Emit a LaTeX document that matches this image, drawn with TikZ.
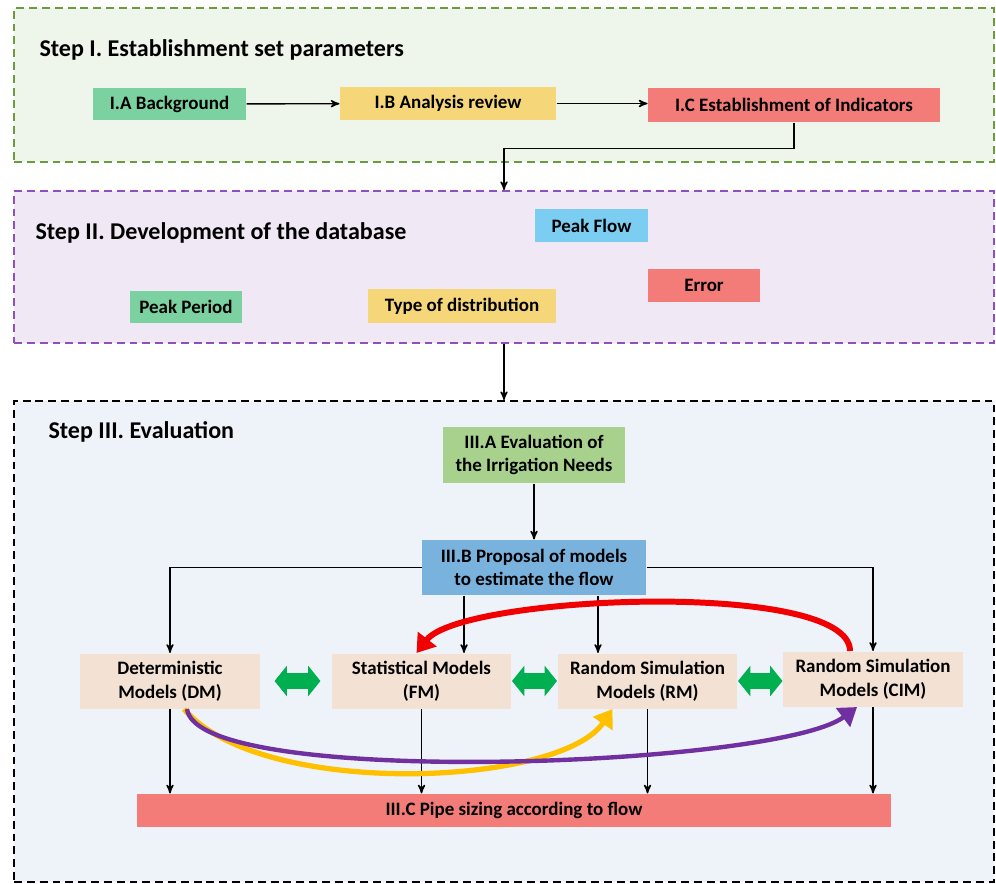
\documentclass[tikz,border=0pt]{standalone}
\usepackage{fontspec}
\setmainfont{Carlito}
\usepackage{xcolor}
\usetikzlibrary{arrows,arrows.meta,positioning,calc}

\definecolor{panelIfill}{HTML}{EEF5EA}
\definecolor{panelIline}{HTML}{6C9A3E}
\definecolor{panelIIfill}{HTML}{F0E8F4}
\definecolor{panelIIline}{HTML}{8E4FC0}
\definecolor{panelIIIfill}{HTML}{EEF3FA}
\definecolor{boxgreen}{HTML}{7BD2A0}
\definecolor{boxyellow}{HTML}{F5D77A}
\definecolor{boxred}{HTML}{F47C78}
\definecolor{boxblue}{HTML}{7CCDF2}
\definecolor{boxolive}{HTML}{A9D18E}
\definecolor{boxsteel}{HTML}{7AB2DE}
\definecolor{boxsand}{HTML}{F3E1D3}
\definecolor{arrowgreen}{HTML}{00B050}
\definecolor{arrowred}{HTML}{F00000}
\definecolor{arrowgold}{HTML}{FFC000}
\definecolor{arrowpurple}{HTML}{7030A0}

\begin{document}
\begin{tikzpicture}[x=0.02cm, y=-0.02cm, >=stealth', semithick]
  % Define styles
  \tikzstyle{panel}=[rectangle, line width=1.1pt, dash pattern=on 4.5pt off 2.8pt, minimum width=19.6cm, inner sep=0pt]
  \tikzstyle{title}=[anchor=west, inner sep=0pt, font=\bfseries\fontsize{13.7}{16}\selectfont]
  \tikzstyle{box}=[rectangle, inner sep=2pt, align=center, font=\bfseries\fontsize{10.8}{13.5}\selectfont]
  \tikzstyle{model}=[box, fill=boxsand, minimum width=3.6cm, minimum height=1.1cm]
  \tikzstyle{link}=[->, thick]
  \tikzstyle{twoway}=[{Triangle[length=7pt,width=17pt]}-{Triangle[length=7pt,width=17pt]}, line width=9.5pt, draw=arrowgreen]
  \tikzstyle{bigarrow}=[-{Triangle[length=10pt,width=13pt]}, line width=3pt]

  \useasboundingbox (0,0) rectangle (996,883);

  % Panels
  \node[panel, draw=panelIline, fill=panelIfill, minimum height=3.08cm]     (stepI)   at (504,85)    {};
  \node[panel, draw=panelIIline, fill=panelIIfill, minimum height=3.04cm]   (stepII)  at (504,267)   {};
  \node[panel, draw=black, fill=panelIIIfill, minimum height=9.62cm]        (stepIII) at (504,641.5) {};

  \node[title] (titleI)   at (39,50)  {Step I. Establishment set parameters};
  \node[title] (titleII)  at (35,233) {Step II. Development of the database};
  \node[title] (titleIII) at (48,432) {Step III. Evaluation};

  % Step I
  \node[box, fill=boxgreen, minimum width=3.06cm, minimum height=0.64cm]  (IA) at (169.5,104) {I.A Background};
  \node[box, fill=boxyellow, minimum width=4.32cm, minimum height=0.66cm] (IB) at (448,103.5) {I.B Analysis review};
  \node[box, fill=boxred, minimum width=5.84cm, minimum height=0.68cm]    (IC) at (794,105)   {I.C Establishment of Indicators};

  % Step II
  \node[box, fill=boxblue, minimum width=2.26cm, minimum height=0.66cm]   (flow)   at (591.5,225.5) {Peak Flow};
  \node[box, fill=boxred, minimum width=2.24cm, minimum height=0.66cm]    (error)  at (704,285.5)   {Error};
  \node[box, fill=boxgreen, minimum width=2.24cm, minimum height=0.64cm]  (period) at (186,307)     {Peak Period};
  \node[box, fill=boxyellow, minimum width=3.76cm, minimum height=0.68cm] (distr)  at (462,306)     {Type of distribution};

  % Step III
  \node[box, fill=boxolive, minimum width=3.64cm, minimum height=1.12cm] (IIIA) at (534,455)   {III.A Evaluation of\\the Irrigation Needs};
  \node[box, fill=boxsteel, minimum width=4.48cm, minimum height=1.1cm]  (IIIB) at (534,567.5) {III.B Proposal of models\\to estimate the flow};
  \node[model] (DM)  at (170,681)   {Deterministic\\Models (DM)};
  \node[model] (FM)  at (421.5,681) {Statistical Models\\(FM)};
  \node[model] (RM)  at (647.5,681) {Random Simulation\\Models (RM)};
  \node[model] (CIM) at (873,679)   {Random Simulation\\Models (CIM)};
  \node[box, fill=boxred, minimum width=15.08cm, minimum height=0.66cm] (pipe) at (514,810.5) {III.C Pipe sizing according to flow};

  % Edges
  \draw[link] (IA) -- (IB);
  \draw[link] (IB.east) -- (IC.west |- IB.east);
  \draw[link] (IC.south) -- ++(0,26) -| (stepII.north);
  \draw[link] (stepII.south) -- (stepIII.north);
  \draw[link] (IIIA) -- (IIIB);
  \draw[link] (IIIB.west) -| (DM.north);
  \draw[link] (IIIB.east) -| (CIM.north);
  \draw[link] ([xshift=-1.4cm]IIIB.south) -- ([xshift=-1.4cm]IIIB.south |- FM.north);
  \draw[link] ([xshift=1.28cm]IIIB.south) -- ([xshift=1.28cm]IIIB.south |- RM.north);
  \foreach \m in {DM, FM, RM, CIM}
    \draw[link] (\m.south) -- (\m.south |- pipe.north);

  \draw[twoway, shorten <=8pt, shorten >=6pt] (DM) -- (FM);
  \draw[twoway] (FM) -- (RM);
  \draw[twoway] (RM.east) -- (CIM.west |- RM.east);

  \draw[bigarrow, arrowgold]   ([xshift=0.28cm]DM.south) .. controls +(76,90) and +(-53,78) .. ([xshift=-0.7cm]RM.south);
  \draw[bigarrow, arrowpurple, line width=2.5pt] ([xshift=0.34cm]DM.south) .. controls +(10,80) and +(-80,60) .. ([xshift=-0.32cm]CIM.south);
  \draw[bigarrow, arrowred, line width=3.4pt] ([xshift=-0.46cm]CIM.north) .. controls +(0,-72) and +(45,-58) .. ([xshift=-0.1cm]FM.north);
\end{tikzpicture}
\end{document}
